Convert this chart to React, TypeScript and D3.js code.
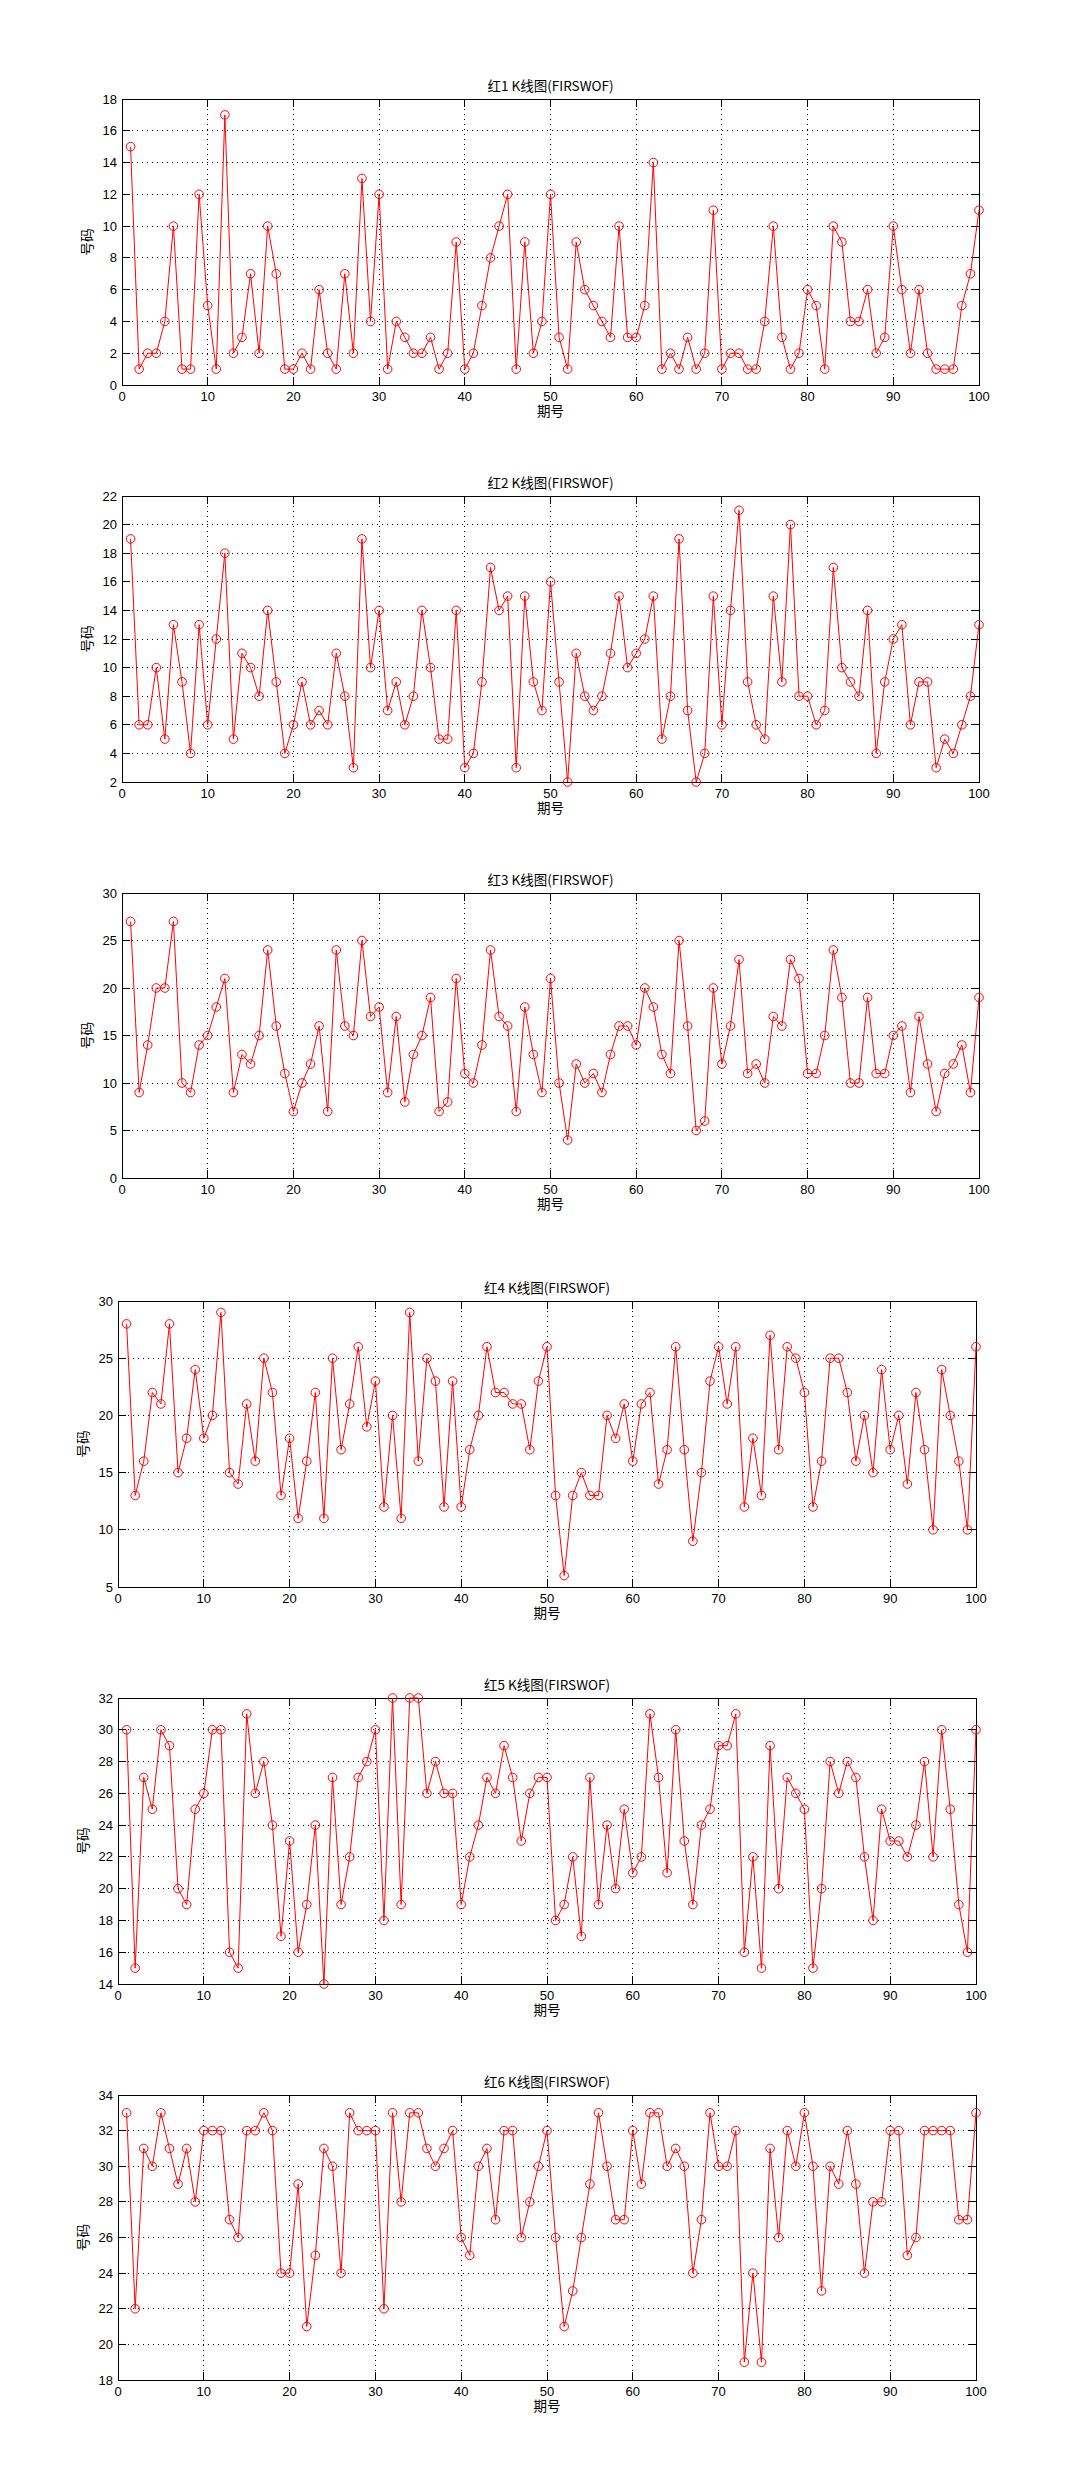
import React from "react";
import * as d3 from "d3";

const periods: number[] = Array.from({ length: 100 }, (_, i) => i + 1);

const red1 = [15,1,2,2,4,10,1,1,12,5,1,17,2,3,7,2,10,7,1,1,2,1,6,2,1,7,2,13,4,12,1,4,3,2,2,3,1,2,9,1,2,5,8,10,12,1,9,2,4,12,3,1,9,6,5,4,3,10,3,3,5,14,1,2,1,3,1,2,11,1,2,2,1,1,4,10,3,1,2,6,5,1,10,9,4,4,6,2,3,10,6,2,6,2,1,1,1,5,7,11];
const red2 = [19,6,6,10,5,13,9,4,13,6,12,18,5,11,10,8,14,9,4,6,9,6,7,6,11,8,3,19,10,14,7,9,6,8,14,10,5,5,14,3,4,9,17,14,15,3,15,9,7,16,9,2,11,8,7,8,11,15,10,11,12,15,5,8,19,7,2,4,15,6,14,21,9,6,5,15,9,20,8,8,6,7,17,10,9,8,14,4,9,12,13,6,9,9,3,5,4,6,8,13];
const red3 = [27,9,14,20,20,27,10,9,14,15,18,21,9,13,12,15,24,16,11,7,10,12,16,7,24,16,15,25,17,18,9,17,8,13,15,19,7,8,21,11,10,14,24,17,16,7,18,13,9,21,10,4,12,10,11,9,13,16,16,14,20,18,13,11,25,16,5,6,20,12,16,23,11,12,10,17,16,23,21,11,11,15,24,19,10,10,19,11,11,15,16,9,17,12,7,11,12,14,9,19];
const red4 = [28,13,16,22,21,28,15,18,24,18,20,29,15,14,21,16,25,22,13,18,11,16,22,11,25,17,21,26,19,23,12,20,11,29,16,25,23,12,23,12,17,20,26,22,22,21,21,17,23,26,13,6,13,15,13,13,20,18,21,16,21,22,14,17,26,17,9,15,23,26,21,26,12,18,13,27,17,26,25,22,12,16,25,25,22,16,20,15,24,17,20,14,22,17,10,24,20,16,10,26];
const red5 = [30,15,27,25,30,29,20,19,25,26,30,30,16,15,31,26,28,24,17,23,16,19,24,14,27,19,22,27,28,30,18,32,19,32,32,26,28,26,26,19,22,24,27,26,29,27,23,26,27,27,18,19,22,17,27,19,24,20,25,21,22,31,27,21,30,23,19,24,25,29,29,31,16,22,15,29,20,27,26,25,15,20,28,26,28,27,22,18,25,23,23,22,24,28,22,30,25,19,16,30];
const red6 = [33,22,31,30,33,31,29,31,28,32,32,32,27,26,32,32,33,32,24,24,29,21,25,31,30,24,33,32,32,32,22,33,28,33,33,31,30,31,32,26,25,30,31,27,32,32,26,28,30,32,26,21,23,26,29,33,30,27,27,32,29,33,33,30,31,30,24,27,33,30,30,32,19,24,19,31,26,32,30,33,30,23,30,29,32,29,24,28,28,32,32,25,26,32,32,32,32,27,27,33];

const titles = ["红1 K线图(FIRSWOF)", "红2 K线图(FIRSWOF)", "红3 K线图(FIRSWOF)", "红4 K线图(FIRSWOF)", "红5 K线图(FIRSWOF)", "红6 K线图(FIRSWOF)"];
const yDomains: [number, number][] = [[0, 18], [2, 22], [0, 30], [5, 30], [14, 32], [18, 34]];
const yStep = [2, 2, 5, 5, 2, 2];
const xTicks = [0, 10, 20, 30, 40, 50, 60, 70, 80, 90, 100];
const series = [red1, red2, red3, red4, red5, red6];

const frames = [
  { left: 122, right: 979, top: 99, bottom: 385 },
  { left: 122, right: 979, top: 496, bottom: 782 },
  { left: 122, right: 979, top: 893, bottom: 1178 },
  { left: 118, right: 976, top: 1301, bottom: 1587 },
  { left: 118, right: 976, top: 1698, bottom: 1984 },
  { left: 118, right: 976, top: 2095, bottom: 2380 },
];

const FONT = "'Liberation Sans', Arial, 'Noto Sans CJK SC', sans-serif";
const CJK = "'Noto Sans CJK SC', 'Liberation Sans', sans-serif";

function Panel({ idx }: { idx: number }) {
  const f = frames[idx];
  const data = series[idx];
  const [y0, y1] = yDomains[idx];
  const x = d3.scaleLinear().domain([0, 100]).range([f.left, f.right]);
  const y = d3.scaleLinear().domain([y0, y1]).range([f.bottom, f.top]);
  const yTicks = d3.range(y0, y1 + 0.001, yStep[idx]);
  const line = d3
    .line<number>()
    .x((_, i) => x(periods[i]))
    .y((d) => y(d));
  const tl = 8;
  const cx = (f.left + f.right) / 2;
  const cy = (f.top + f.bottom) / 2;
  return (
    <g>
      {/* grid */}
      {xTicks
        .filter((t) => t > 0 && t < 100)
        .map((t) => (
          <line key={"gx" + t} x1={x(t)} x2={x(t)} y1={f.top} y2={f.bottom} stroke="#000" strokeWidth={1} strokeDasharray="1,4" shapeRendering="crispEdges" />
        ))}
      {yTicks
        .filter((t) => t > y0 && t < y1)
        .map((t) => (
          <line key={"gy" + t} x1={f.left} x2={f.right} y1={y(t)} y2={y(t)} stroke="#000" strokeWidth={1} strokeDasharray="1,4" shapeRendering="crispEdges" />
        ))}
      {/* ticks */}
      {xTicks.map((t) => (
        <g key={"tx" + t}>
          <line x1={x(t)} x2={x(t)} y1={f.bottom} y2={f.bottom - tl} stroke="#000" shapeRendering="crispEdges" />
          <line x1={x(t)} x2={x(t)} y1={f.top} y2={f.top + tl} stroke="#000" shapeRendering="crispEdges" />
          <text x={x(t)} y={f.bottom + 16} textAnchor="middle" fontFamily={FONT} fontSize={13} fill="#000">
            {t}
          </text>
        </g>
      ))}
      {yTicks.map((t) => (
        <g key={"ty" + t}>
          <line x1={f.left} x2={f.left + tl} y1={y(t)} y2={y(t)} stroke="#000" shapeRendering="crispEdges" />
          <line x1={f.right} x2={f.right - tl} y1={y(t)} y2={y(t)} stroke="#000" shapeRendering="crispEdges" />
          <text x={f.left - 5} y={y(t) + 4.5} textAnchor="end" fontFamily={FONT} fontSize={13} fill="#000">
            {t}
          </text>
        </g>
      ))}
      {/* box */}
      <rect x={f.left} y={f.top} width={f.right - f.left} height={f.bottom - f.top} fill="none" stroke="#000" strokeWidth={1} shapeRendering="crispEdges" />
      {/* data */}
      <path d={line(data) || ""} fill="none" stroke="#ff0000" strokeWidth={1} />
      {data.map((d, i) => (
        <circle key={i} cx={x(periods[i])} cy={y(d)} r={4.3} fill="none" stroke="#ff0000" strokeWidth={1} />
      ))}
      {/* labels */}
      <text x={cx} y={f.top - 8} textAnchor="middle" fontFamily={CJK} fontSize={13.5} fill="#000">
        {titles[idx]}
      </text>
      <text x={cx} y={f.bottom + 31} textAnchor="middle" fontFamily={CJK} fontSize={13.5} fill="#000">
        期号
      </text>
      <text transform={`translate(${f.left - 30},${cy}) rotate(-90)`} textAnchor="middle" fontFamily={CJK} fontSize={13.5} fill="#000">
        号码
      </text>
    </g>
  );
}

export default function App() {
  return (
    <svg
      width={1083}
      height={2473}
      viewBox="0 0 1083 2473"
      style={{ position: "absolute", left: 0, top: 0, background: "#fff" }}
    >
      <rect x={0} y={0} width={1083} height={2473} fill="#fff" />
      {titles.map((_, i) => (
        <Panel key={i} idx={i} />
      ))}
    </svg>
  );
}
